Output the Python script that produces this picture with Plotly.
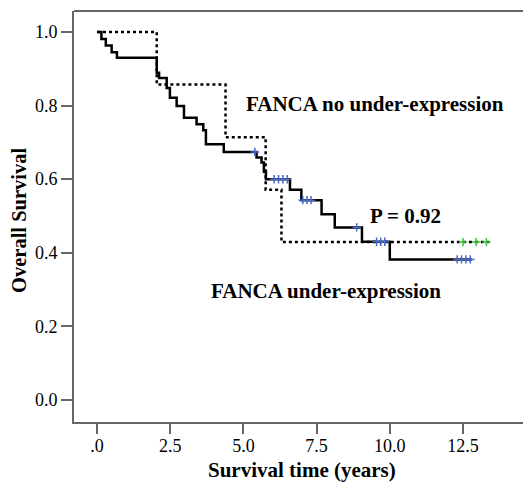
import plotly.graph_objects as go

# Solid curve (step points: time in years, survival after event)
solid_t = [0, 0.15, 0.30, 0.50, 0.68, 2.04, 2.12, 2.38, 2.49, 2.72, 2.97, 3.40, 3.63, 3.72,
           4.33, 5.45, 5.62, 5.70, 5.77, 6.59, 6.98, 7.67, 8.12, 9.05, 10.0, 12.8]
solid_s = [1.0, 0.981, 0.963, 0.945, 0.930, 0.889, 0.875, 0.848, 0.821, 0.799, 0.767, 0.749, 0.733, 0.695,
           0.674, 0.659, 0.645, 0.620, 0.600, 0.571, 0.543, 0.505, 0.469, 0.430, 0.382, 0.382]
solid_cens_t = [5.39, 6.05, 6.20, 6.35, 6.50, 7.03, 7.17, 7.31, 8.87, 9.55, 9.69, 9.83, 12.3, 12.45, 12.6, 12.75]
solid_cens_s = [0.674, 0.600, 0.600, 0.600, 0.600, 0.543, 0.543, 0.543, 0.469, 0.430, 0.430, 0.430,
                0.382, 0.382, 0.382, 0.382]

# Dotted curve
dot_t = [0, 2.04, 4.39, 5.76, 6.30, 13.4]
dot_s = [1.0, 0.857, 0.714, 0.571, 0.429, 0.429]
dot_cens_t = [12.5, 12.95, 13.3]
dot_cens_s = [0.429, 0.429, 0.429]

x_ticks = [0, 2.5, 5.0, 7.5, 10.0, 12.5]
x_ticktext = [".0", "2.5", "5.0", "7.5", "10.0", "12.5"]
y_ticks = [0.0, 0.2, 0.4, 0.6, 0.8, 1.0]
y_ticktext = ["0.0", "0.2", "0.4", "0.6", "0.8", "1.0"]

FONT = "Liberation Serif"
AX = "#666666"

fig = go.Figure()
fig.add_trace(go.Scatter(x=dot_t, y=dot_s, mode="lines", line_shape="hv",
                         line=dict(color="black", width=2.5, dash="dot"), showlegend=False))
fig.add_trace(go.Scatter(x=solid_t, y=solid_s, mode="lines", line_shape="hv",
                         line=dict(color="black", width=2.5), showlegend=False))
fig.add_trace(go.Scatter(x=solid_cens_t, y=solid_cens_s, mode="markers",
                         marker=dict(symbol="cross-thin", size=6, line=dict(color="#4a67c6", width=1.5)),
                         showlegend=False))
fig.add_trace(go.Scatter(x=dot_cens_t, y=dot_cens_s, mode="markers",
                         marker=dict(symbol="cross-thin", size=6, line=dict(color="#3cc03c", width=1.5)),
                         showlegend=False))

ann_font = dict(family=FONT, size=21, color="black")
fig.add_annotation(x=9.49, y=0.804, text="<b>FANCA no under-expression</b>", showarrow=False, font=ann_font)
fig.add_annotation(x=7.82, y=0.296, text="<b>FANCA under-expression</b>", showarrow=False, font=ann_font)
fig.add_annotation(x=10.55, y=0.50, text="<b>P = 0.92</b>", showarrow=False, font=ann_font)

# axis titles
fig.add_annotation(xref="paper", yref="paper", x=(302 - 74) / 449, y=-(470 - 422) / 411,
                   yanchor="middle", xanchor="center", text="<b>Survival time (years)</b>",
                   showarrow=False, font=dict(family=FONT, size=21, color="black"))
fig.add_annotation(xref="paper", yref="paper", x=-(74 - 19) / 449, y=(422 - 220) / 411,
                   yanchor="middle", xanchor="center", text="<b>Overall Survival</b>", textangle=-90,
                   showarrow=False, font=dict(family=FONT, size=20.5, color="black"))

fig.add_shape(type="line", xref="paper", yref="paper", x0=0, x1=1, y0=1, y1=1,
              line=dict(color=AX, width=2))

fig.update_layout(
    width=523, height=482,
    margin=dict(l=74, r=0, t=11, b=60),
    plot_bgcolor="white", paper_bgcolor="white",
    font=dict(family=FONT, color="black"),
    xaxis=dict(range=[-0.786, 14.55], tickvals=x_ticks, ticktext=x_ticktext, automargin=False,
               showgrid=False, zeroline=False, showline=True, linecolor=AX, linewidth=2,
               ticks="outside", ticklen=10, tickwidth=1.5, tickcolor=AX,
               ticklabelstandoff=-4,
               tickprefix="<b>", ticksuffix="</b>",
               tickfont=dict(family=FONT, size=18, color="black")),
    yaxis=dict(range=[-0.0598, 1.057], tickvals=y_ticks, ticktext=y_ticktext, automargin=False,
               showgrid=False, zeroline=False, showline=True, linecolor=AX, linewidth=2,
               ticks="outside", ticklen=11, tickwidth=1.5, tickcolor=AX,
               tickprefix="<b>", ticksuffix="</b>",
               tickfont=dict(family=FONT, size=18, color="black")),
)

fig.write_html("out.html", config={"displayModeBar": False},
               post_script="document.body.style.margin='0';document.body.style.overflow='hidden';")
